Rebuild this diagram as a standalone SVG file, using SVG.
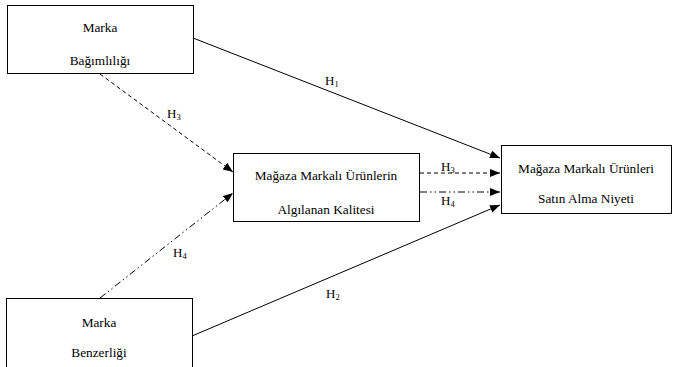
<svg xmlns="http://www.w3.org/2000/svg" width="678" height="367" viewBox="0 0 678 367" font-family="'Liberation Serif', 'Times New Roman', serif">
  <style>
    .box { fill: #ffffff; stroke: #000000; stroke-width: 1; }
    .t { font-family: 'Liberation Serif', 'Times New Roman', serif; font-size: 13.3px; fill: #000000; text-anchor: middle; }
    .lbl { font-family: 'Liberation Serif', 'Times New Roman', serif; font-size: 13px; fill: #000000; }
    .sub { font-size: 8.5px; }
    .line { fill: none; stroke: #000000; stroke-width: 1; }
    .dash { stroke-dasharray: 4 3; }
    .dashdot { stroke-dasharray: 7 3 1.5 3 1.5 3; }
  </style>
  <defs>
    <marker id="arrow" viewBox="0 0 10 8" refX="10" refY="4" markerWidth="10" markerHeight="8" markerUnits="userSpaceOnUse" orient="auto">
      <path d="M0,0 L10,4 L0,8 Z" fill="#000000"/>
    </marker>
  </defs>

  <rect width="678" height="367" fill="#ffffff"/>

  <g id="connectors">
    <line class="line" x1="193" y1="38" x2="500" y2="158" marker-end="url(#arrow)"/>
    <line class="line" x1="192" y1="336" x2="500" y2="205" marker-end="url(#arrow)"/>
    <line class="line dash" x1="100" y1="74" x2="233" y2="172" marker-end="url(#arrow)"/>
    <line class="line dashdot" x1="100" y1="298" x2="233" y2="193" marker-end="url(#arrow)"/>
    <line class="line dash" x1="420" y1="173" x2="500" y2="173" marker-end="url(#arrow)"/>
    <line class="line dashdot" x1="420" y1="192" x2="500" y2="192" marker-end="url(#arrow)"/>

    <text class="lbl" x="325" y="85">H<tspan class="sub" dy="2">1</tspan></text>
    <text class="lbl" x="326" y="298">H<tspan class="sub" dy="2">2</tspan></text>
    <text class="lbl" x="167" y="118">H<tspan class="sub" dy="2">3</tspan></text>
    <text class="lbl" x="173" y="257">H<tspan class="sub" dy="2">4</tspan></text>
    <text class="lbl" x="441" y="171">H<tspan class="sub" dy="2">3</tspan></text>
    <text class="lbl" x="441" y="205">H<tspan class="sub" dy="2">4</tspan></text>
  </g>

  <g id="marka-bagimliligi">
    <rect class="box" x="7.5" y="5.5" width="186" height="68"/>
    <text class="t" x="100" y="32">Marka</text>
    <text class="t" x="100" y="65">Bağımlılığı</text>
  </g>

  <g id="algilanan-kalite">
    <rect class="box" x="233.5" y="153.5" width="186" height="68"/>
    <text class="t" x="326" y="180">Mağaza Markalı Ürünlerin</text>
    <text class="t" x="326" y="214">Algılanan Kalitesi</text>
  </g>

  <g id="satin-alma-niyeti">
    <rect class="box" x="501.5" y="145.5" width="170" height="68"/>
    <text class="t" x="586" y="173">Mağaza Markalı Ürünleri</text>
    <text class="t" x="586" y="203">Satın Alma Niyeti</text>
  </g>

  <g id="marka-benzerligi">
    <rect class="box" x="6.5" y="298.5" width="186" height="75"/>
    <text class="t" x="99" y="327">Marka</text>
    <text class="t" x="99" y="357">Benzerliği</text>
  </g>
</svg>
